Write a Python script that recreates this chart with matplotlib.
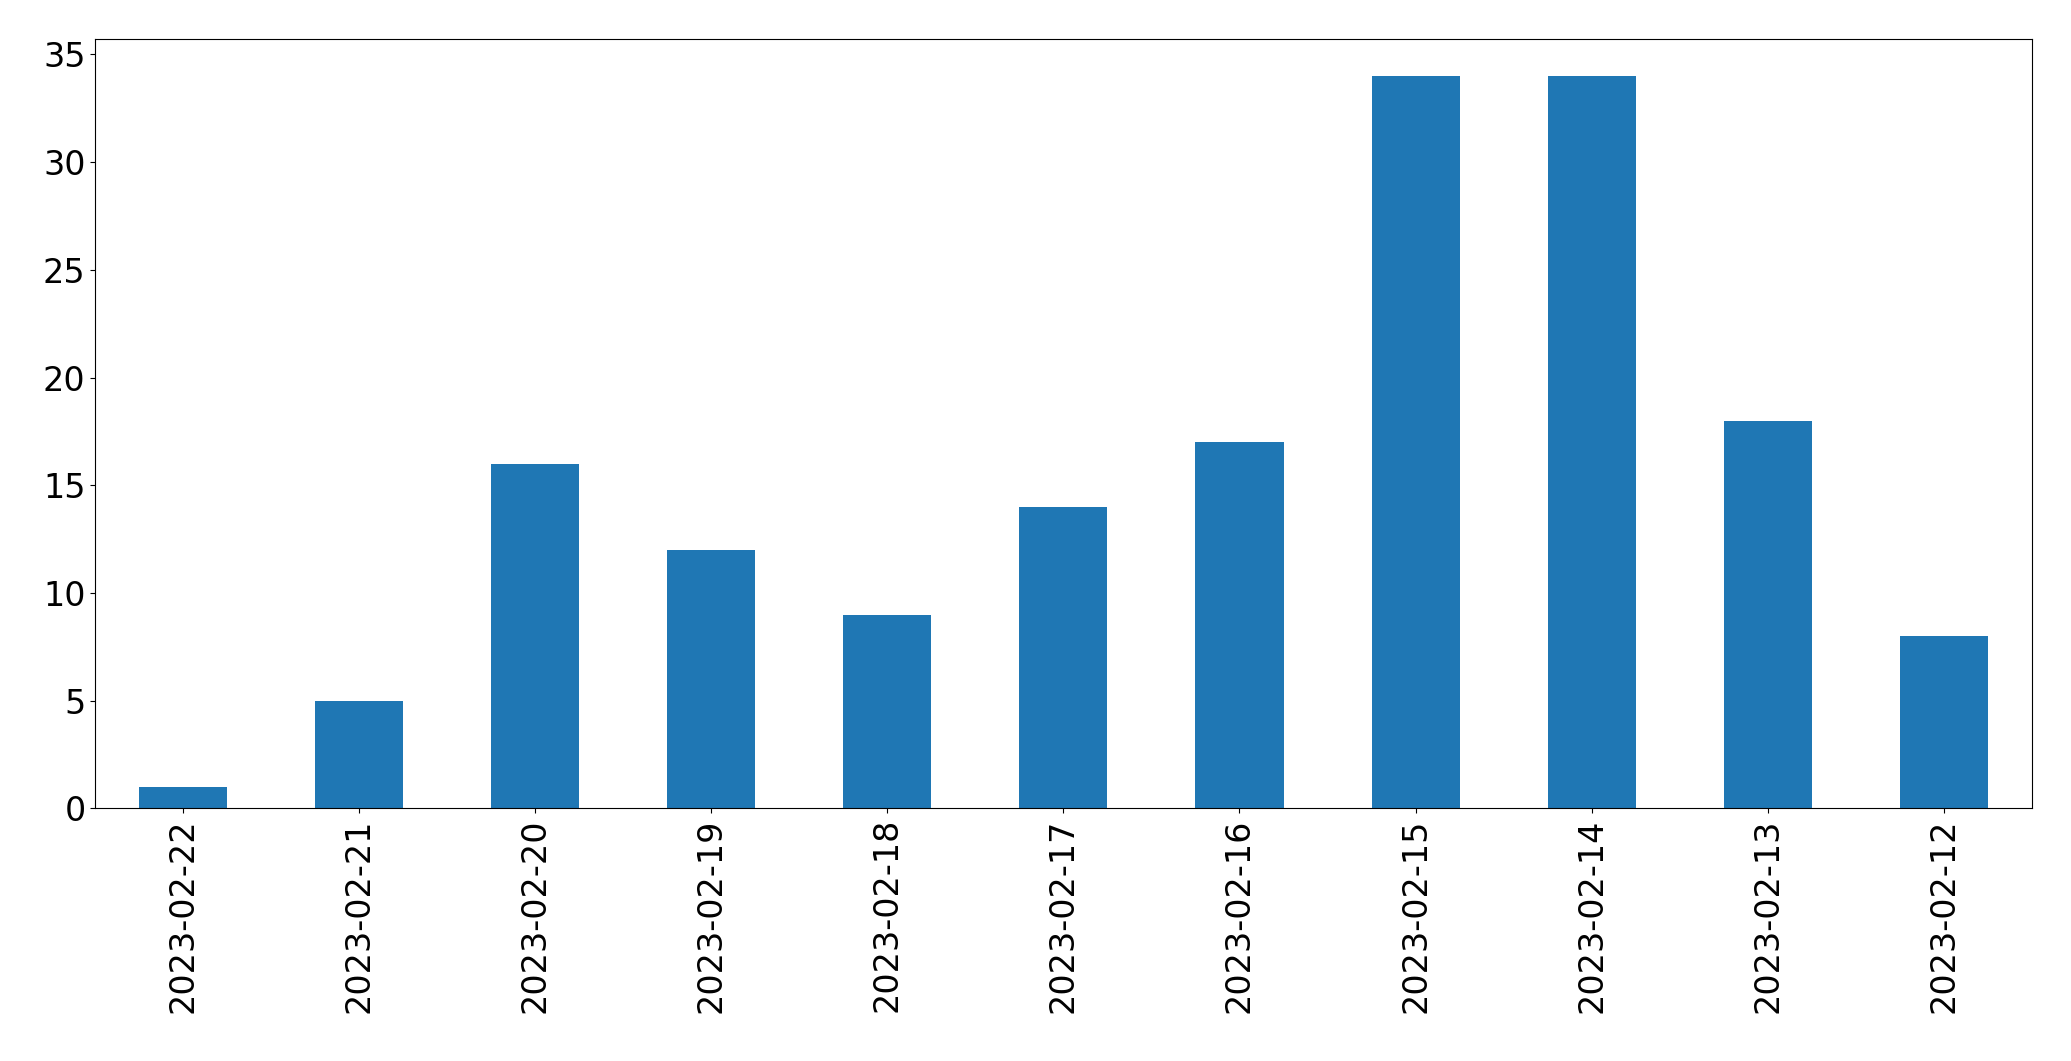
import matplotlib
matplotlib.use("Agg")
import matplotlib.pyplot as plt

dates = ["2023-02-22","2023-02-21","2023-02-20","2023-02-19","2023-02-18","2023-02-17",
         "2023-02-16","2023-02-15","2023-02-14","2023-02-13","2023-02-12"]
counts = [1,5,16,12,9,14,17,34,34,18,8]

fig = plt.figure(figsize=(20.71,10.61), dpi=100)
ax = fig.add_axes([0.046,0.238,0.935,0.725])
x = range(len(dates))
ax.bar(x, counts, width=0.5, color="#1f77b4")
ax.set_xticks(list(x))
ax.set_xticklabels(dates, rotation=90)
ax.set_xlim(-0.5, len(dates)-0.5)
ax.set_ylim(0, 35.7)
ax.tick_params(labelsize=24)
fig.savefig("out.png", dpi=100)
